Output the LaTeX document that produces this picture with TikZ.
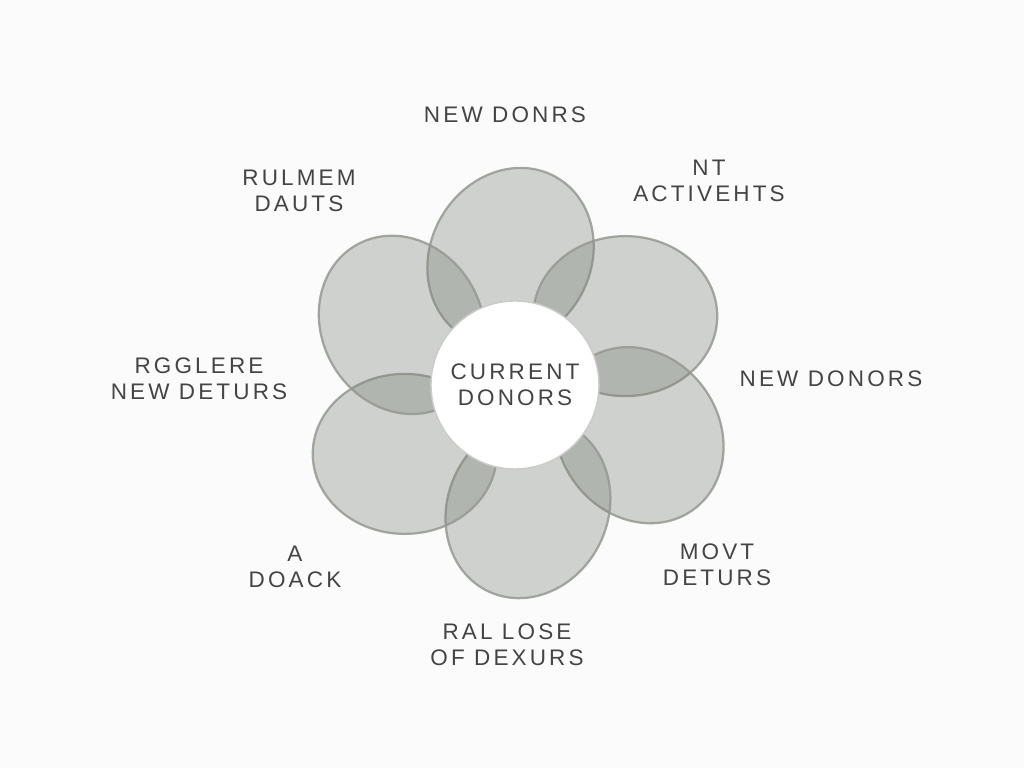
\documentclass[tikz,border=0pt]{standalone}
\usepackage{fontspec}
\setmainfont[LetterSpace=14]{Liberation Sans}
\usetikzlibrary{positioning}

\definecolor{petalgray}{RGB}{122,128,118}
\definecolor{edgegray}{RGB}{150,153,147}
\definecolor{labelgray}{RGB}{68,68,68}

\tikzset{
  petal/.style={fill=petalgray, fill opacity=0.34, draw=edgegray, draw opacity=0.85, line width=1.6pt},
  lbl/.style={text=labelgray, align=center, font=\fontsize{16}{18.5}\selectfont},
}

\begin{document}
\begin{tikzpicture}
    % Fond
    \fill[gray!3] (-12.875,-9.575) rectangle (12.725,9.625);
    \useasboundingbox (-12.875,-9.575) rectangle (12.725,9.625);

    % Petales (en moulinet)
    \foreach \a/\r in {92/3.2, 32/3.25, -22/3.35, -84/3.1, 212/3.25, 152/3.2}
        \draw[petal, rotate around={\a-32:(\a:\r)}] (\a:\r) ellipse (2.3 and 2.0);

    % Centre
    \node[lbl, circle, fill=white, draw=edgegray!50, line width=1pt, minimum size=4.2cm] (current) at (0,0) {CURRENT\\DONORS};

    % Etiquettes
    \node[lbl] (top)        at (-0.25,6.75)  {NEW DONRS};
    \node[lbl] (topleft)    at (-5.4,4.85)   {RULMEM\\DAUTS};
    \node[lbl] (topright)   at (4.85,5.1)    {NT\\ACTIVEHTS};
    \node[lbl] (left)       at (-7.9,0.15)   {RGGLERE\\NEW DETURS};
    \node[lbl] (right)      at (7.9,0.15)    {NEW DONORS};
    \node[lbl] (botleft)    at (-5.5,-4.55)  {A\\DOACK};
    \node[lbl] (botright)   at (5.05,-4.5)   {MOVT\\DETURS};
    \node[lbl] (bottom)     at (-0.2,-6.5)   {RAL LOSE\\OF DEXURS};
\end{tikzpicture}
\end{document}
